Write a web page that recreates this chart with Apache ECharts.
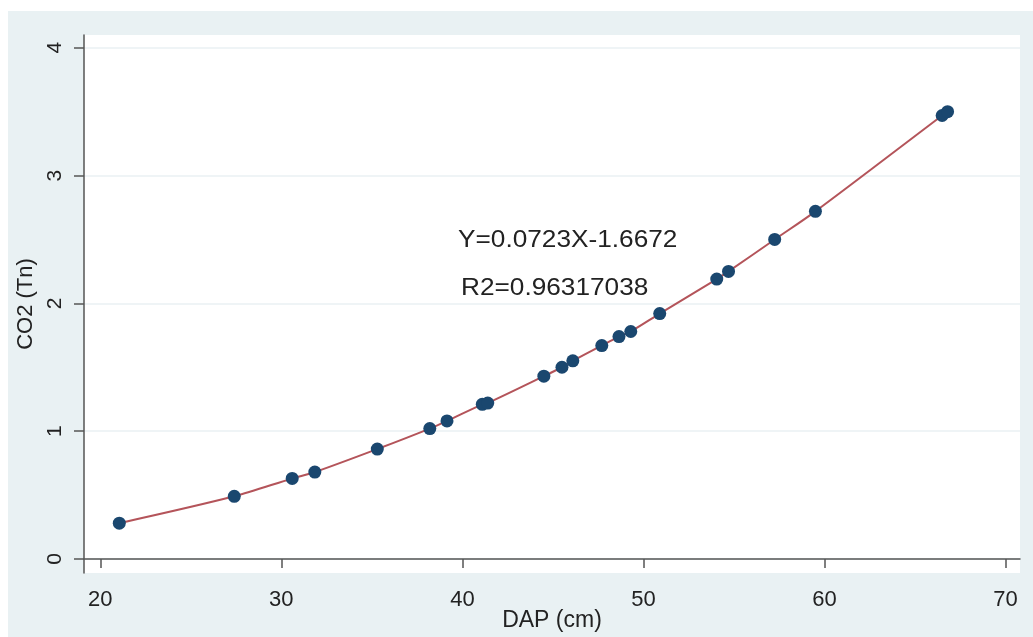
<!DOCTYPE html>
<html>
<head>
<meta charset="utf-8">
<script src="https://cdn.jsdelivr.net/npm/echarts@6/dist/echarts.min.js"></script>
<style>
html,body{margin:0;padding:0;background:#ffffff;}
#chart{width:1033px;height:637px;}
</style>
</head>
<body>
<div id="chart"></div>
<script>
// DAP (cm) values of observed trees
const dap = [21.05, 27.4, 30.6, 31.85, 35.3, 38.2, 39.15, 41.1, 41.4, 44.5, 45.5, 46.1, 47.7, 48.65, 49.3, 50.9, 54.05, 54.7, 57.25, 59.5, 66.5, 66.8];
// CO2 (Tn) values
const co2 = [0.28, 0.49, 0.63, 0.68, 0.86, 1.02, 1.08, 1.21, 1.22, 1.43, 1.50, 1.55, 1.67, 1.74, 1.78, 1.92, 2.19, 2.25, 2.50, 2.72, 3.47, 3.50];
const xTicks = [20, 30, 40, 50, 60, 70];
const yTicks = [0, 1, 2, 3, 4];
const equationText = 'Y=0.0723X-1.6672';
const r2Text = 'R2=0.96317038';

const points = dap.map((d, i) => [d, co2[i]]);
const FONT = 'Liberation Sans, Arial, sans-serif';
const chart = echarts.init(document.getElementById('chart'));
chart.setOption({
  backgroundColor: '#ffffff',
  animation: false,
  textStyle: { fontFamily: FONT },
  graphic: [
    { type: 'rect', left: 8, top: 11, z: -10, silent: true,
      shape: { width: 1025, height: 626 }, style: { fill: '#e9f1f3' } },
    { type: 'text', left: 458, top: 229, scaleX: 1.14, z: 100,
      style: { text: equationText, fontSize: 23, fill: '#222', fontFamily: FONT } },
    { type: 'text', left: 461, top: 277, scaleX: 1.14, z: 100,
      style: { text: r2Text, fontSize: 23, fill: '#222', fontFamily: FONT } }
  ],
  grid: { left: 84, right: 13, top: 35, bottom: 64, show: true, containLabel: false,
          outerBoundsMode: 'none',
          backgroundColor: '#ffffff', borderWidth: 0 },
  xAxis: {
    type: 'value', min: 19.1, max: 70.8,
    name: 'DAP (cm)', nameLocation: 'middle', nameGap: 36, nameMoveOverlap: false,
    nameTextStyle: { fontSize: 23, color: '#222', fontFamily: FONT },
    axisLine: { lineStyle: { color: '#555', width: 1.5 } },
    axisTick: { show: true, length: 9, customValues: xTicks, lineStyle: { color: '#555', width: 1.5 } },
    axisLabel: { customValues: xTicks, fontSize: 22, color: '#222', margin: 16, fontFamily: FONT },
    splitLine: { show: false }
  },
  yAxis: {
    type: 'value', min: -0.11, max: 4.1,
    name: 'CO2 (Tn)', nameLocation: 'middle', nameGap: 47, nameRotate: 90, nameMoveOverlap: false,
    nameTextStyle: { fontSize: 22, color: '#222', fontFamily: FONT },
    axisLine: { show: true, lineStyle: { color: '#555', width: 1.5 } },
    axisTick: { show: true, length: 10, customValues: yTicks, lineStyle: { color: '#555', width: 1.5 } },
    axisLabel: { customValues: yTicks, rotate: 90, fontSize: 21, color: '#222', margin: 18, fontFamily: FONT },
    splitLine: { show: true, lineStyle: { color: '#eaf1f3', width: 1.5 } }
  },
  series: [
    { type: 'line', data: points, smooth: 0.3, symbol: 'none', z: 2,
      lineStyle: { color: '#b4545a', width: 2 } },
    { type: 'scatter', data: points, symbolSize: 13, z: 3,
      itemStyle: { color: '#1a476f', opacity: 1 } }
  ]
});
</script>
</body>
</html>
